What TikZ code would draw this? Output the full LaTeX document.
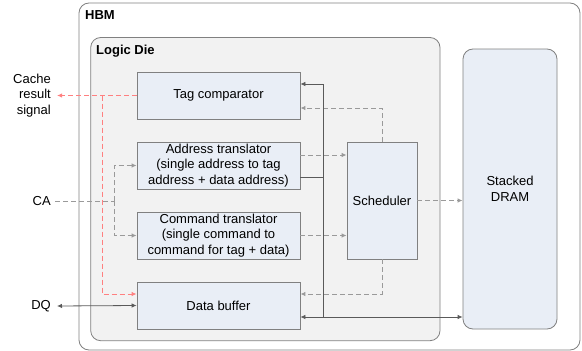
\documentclass[tikz,border=0pt]{standalone}
\usepackage{fontspec}
\setmainfont{Liberation Sans}
\usetikzlibrary{arrows.meta,calc}
\definecolor{boxfill}{HTML}{E9EEF6}
\definecolor{diefill}{HTML}{F2F2F2}
\definecolor{edge}{HTML}{808080}
\definecolor{wire}{HTML}{5A5A5A}
\definecolor{dwire}{HTML}{9A9A9A}
\definecolor{rwire}{HTML}{FF8080}
\begin{document}
\begin{tikzpicture}[x=1pt,y=-1pt,
  font=\fontsize{13}{15.5}\selectfont,
  box/.style={draw=edge, fill=boxfill, line width=0.8pt, minimum width=163pt,
    minimum height=47pt, align=center, inner sep=0pt},
  tip/.style={-{Latex[length=5pt,width=4.5pt]}},
  tips/.style={{Latex[length=5pt,width=4.5pt]}-{Latex[length=5pt,width=4.5pt]}},
  solidw/.style={draw=wire, line width=0.8pt},
  dashw/.style={draw=dwire, line width=1pt, dash pattern=on 5pt off 3pt},
  redw/.style={draw=rwire, line width=1pt, dash pattern=on 5pt off 3pt},
  lab/.style={inner sep=0pt, anchor=east, align=right},
  title/.style={inner sep=0pt, anchor=west, font=\bfseries\fontsize{13}{15.5}\selectfont}]
\useasboundingbox (0,0) rectangle (582,351);
% containers
\draw[edge, fill=white, rounded corners=10pt, line width=0.8pt] (79,3) rectangle (580,350);
\node[title] (hbmlab) at (85,15) {HBM};
\draw[edge, fill=diefill, rounded corners=10pt, line width=0.8pt] (90.7,37.5) rectangle (440,340.7);
\node[title] (dielab) at (96,51) {Logic Die};
% blocks
\node[box] (tag) at (218.5,95.5) {Tag comparator};
\node[box] (addr) at (218.5,165.5) {Address translator\\(single address to tag\\address + data address)};
\node[box] (cmd) at (218.5,235.5) {Command translator\\(single command to\\command for tag + data)};
\node[box] (data) at (218.5,305.5) {Data buffer};
\node[box, minimum width=70pt, minimum height=117pt] (sched) at (382,200.5) {Scheduler};
\node[box, minimum width=94pt, minimum height=280pt, rounded corners=10pt] (dram) at (510,189) {Stacked\\DRAM};
% outside labels
\node[lab] (cache) at (51,95.5) {Cache\\result\\signal};
\node[lab] (ca) at (51,201) {CA};
\node[lab] (dq) at (51,306) {DQ};
% helper coordinates
\coordinate (cacheend) at (57,95.5);
\coordinate (redj) at (102,95.5);
\coordinate (caj) at (114,201);
\coordinate (busj) at (323,317);
% red dashed: cache result
\draw[redw, tip] (tag.west) -- (cacheend);
\draw[redw, tip] (redj) |- ($(data.west)+(0,-11.5)$);
% CA
\draw[dashw] ([xshift=4pt]ca.east) -- (caj);
\draw[dashw, tip] (caj) |- (addr.west);
\draw[dashw, tip] (caj) |- (cmd.west);
% DQ
\draw[solidw, tips] ([xshift=6pt]dq.east) -- (data.west);
% to scheduler
\draw[dashw, tip] ($(addr.east)+(0,-10.5)$) -- ($(sched.west)+(0,-45.5)$);
\draw[dashw, tip] (cmd.east) -- ($(sched.west)+(0,35)$);
\draw[dashw, tip] (sched.east) -- (dram.west |- sched.east);
\draw[dashw, tip] (sched.north) |- ($(tag.east)+(0,12.5)$);
\draw[dashw, tip] (sched.south) |- ($(data.east)+(0,-11.5)$);
% data bus and tag path
\draw[solidw, tips] ($(data.east)+(0,11.5)$) -- (dram.west |- busj);
\draw[solidw, tip] (busj) |- ($(tag.east)+(0,-11.5)$);
\draw[solidw] ($(addr.east)+(0,11.5)$) -- (busj |- {$(addr.east)+(0,11.5)$});
\end{tikzpicture}
\end{document}
